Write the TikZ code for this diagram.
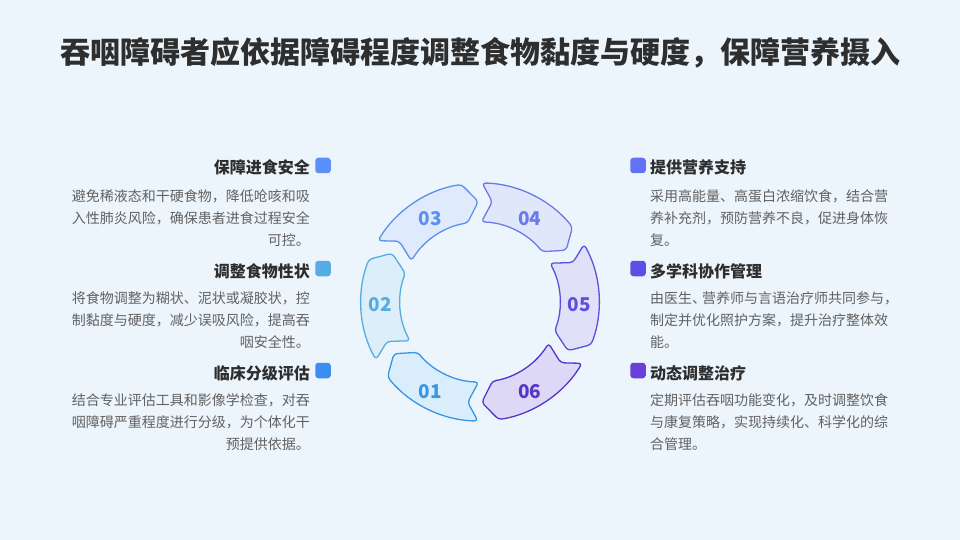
\documentclass[tikz,border=0pt]{standalone}
\usepackage{fontspec}
\setmainfont{Noto Sans CJK SC}
\definecolor{bgc}{HTML}{ECF5FC}
\definecolor{titlec}{HTML}{2E2E2E}
\definecolor{headc}{HTML}{2E2E2E}
\definecolor{bodyc}{HTML}{616161}
\definecolor{s1}{HTML}{3A96E4}
\definecolor{s2}{HTML}{56ACDD}
\definecolor{s3}{HTML}{5C90EE}
\definecolor{s4}{HTML}{6A7AEA}
\definecolor{s5}{HTML}{5C50DC}
\definecolor{s6}{HTML}{5436CA}
\definecolor{f1}{HTML}{D9EDFB}
\definecolor{f2}{HTML}{DCEEFA}
\definecolor{f3}{HTML}{DFEBFC}
\definecolor{f4}{HTML}{E1E7FB}
\definecolor{f5}{HTML}{E0E0F8}
\definecolor{f6}{HTML}{DDD8F6}
\definecolor{m1}{HTML}{5B8FF9}
\definecolor{m2}{HTML}{56ADE3}
\definecolor{m3}{HTML}{3A8EF0}
\definecolor{m4}{HTML}{6272F5}
\definecolor{m5}{HTML}{5B50E6}
\definecolor{m6}{HTML}{6A40DA}
\newcommand\rlines[1]{\begin{tabular}[t]{@{}r@{}}#1\end{tabular}}
\newcommand\llines[1]{\begin{tabular}[t]{@{}l@{}}#1\end{tabular}}
\newcommand\cycseg[5]{%
  \draw[segline, draw=#2, fill=#3]
    ({#1+29}:119) arc[start angle={#1+29}, end angle={#1-21}, radius=119]
    -- ({#1-29}:100.5) -- ({#1-21}:80)
    arc[start angle={#1-21}, end angle={#1+29}, radius=80]
    -- ({#1+23}:101) -- cycle;
  \node[numtext, text=#2, yshift=-3pt] (#5) at (#1:99.5) {#4};}
\tikzset{
  segline/.style={line width=1.3pt, rounded corners=3.5pt, line join=round},
  numtext/.style={font=\fontsize{19}{22}\selectfont\bfseries, inner sep=0pt},
  headtext/.style={font=\fontsize{16}{20}\selectfont\bfseries, text=headc, inner sep=0pt},
  bodytext/.style={font=\fontsize{14}{22}\selectfont, text=bodyc, inner sep=0pt},
  markbox/.style={minimum size=15.5pt, inner sep=0pt, rounded corners=3pt},
}
\begin{document}
\begin{tikzpicture}[x=1pt,y=-1pt]
\useasboundingbox (0,0) rectangle (960,540);
\fill[bgc] (0,0) rectangle (960,540);
\node[font=\fontsize{30}{36}\selectfont\bfseries, text=titlec, inner sep=0pt, anchor=base] (title) at (480,63.5) {吞咽障碍者应依据障碍程度调整食物黏度与硬度，保障营养摄入};

\begin{scope}[shift={(480,302)}, yscale=-1]
  \cycseg{-120}{s1}{f1}{01}{n1}
  \cycseg{180}{s2}{f2}{02}{n2}
  \cycseg{120}{s3}{f3}{03}{n3}
  \cycseg{60}{s4}{f4}{04}{n4}
  \cycseg{0}{s5}{f5}{05}{n5}
  \cycseg{-60}{s6}{f6}{06}{n6}
\end{scope}

% left blocks
\node[markbox, fill=m1] (mk1) at (323,165.5) {};
\node[headtext, anchor=base east] (h1) at (310,174) {保障进食安全};
\node[bodytext, anchor=base east] (b1) at (310,201.5) {\rlines{避免稀液态和干硬食物，降低呛咳和吸\\入性肺炎风险，确保患者进食过程安全\\可控。}};

\node[markbox, fill=m2] (mk2) at (323,268.5) {};
\node[headtext, anchor=base east] (h2) at (310,277) {调整食物性状};
\node[bodytext, anchor=base east] (b2) at (310,303.5) {\rlines{将食物调整为糊状、泥状或凝胶状，控\\制黏度与硬度，减少误吸风险，提高吞\\咽安全性。}};

\node[markbox, fill=m3] (mk3) at (323,370.5) {};
\node[headtext, anchor=base east] (h3) at (310,379) {临床分级评估};
\node[bodytext, anchor=base east] (b3) at (310,405.5) {\rlines{结合专业评估工具和影像学检查，对吞\\咽障碍严重程度进行分级，为个体化干\\预提供依据。}};

% right blocks
\node[markbox, fill=m4] (mk4) at (638,165.5) {};
\node[headtext, anchor=base west] (h4) at (650,174) {提供营养支持};
\node[bodytext, anchor=base west] (b4) at (650,201.5) {\llines{采用高能量、高蛋白浓缩饮食，结合营\\养补充剂，预防营养不良，促进身体恢\\复。}};

\node[markbox, fill=m5] (mk5) at (638,268.5) {};
\node[headtext, anchor=base west] (h5) at (650,277) {多学科协作管理};
\node[bodytext, anchor=base west] (b5) at (650,303.5) {\llines{由医生、\kern-4pt营养师与言语治疗师共同参与，\\制定并优化照护方案，提升治疗整体效\\能。}};

\node[markbox, fill=m6] (mk6) at (638,370.5) {};
\node[headtext, anchor=base west] (h6) at (650,379) {动态调整治疗};
\node[bodytext, anchor=base west] (b6) at (650,405.5) {\llines{定期评估吞咽功能变化，及时调整饮食\\与康复策略，实现持续化、科学化的综\\合管理。}};
\end{tikzpicture}
\end{document}
